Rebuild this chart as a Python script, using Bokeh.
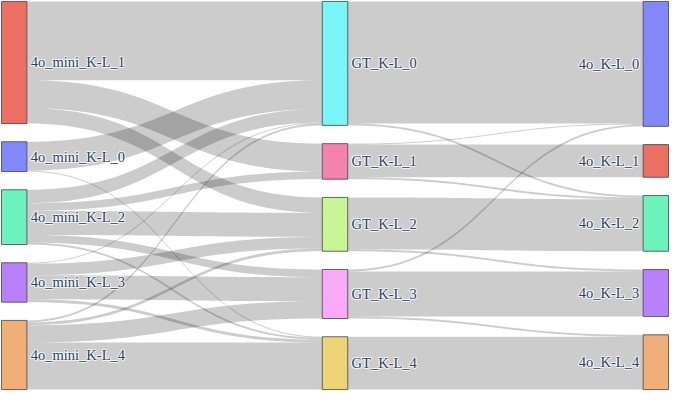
import numpy as np
from bokeh.plotting import figure
from bokeh.models import Range1d, ColumnDataSource
from bokeh.core.properties import value
from bokeh.embed import file_html
from bokeh.resources import INLINE

# ---------------- data ----------------
left_labels = ["4o_mini_K-L_1", "4o_mini_K-L_0", "4o_mini_K-L_2", "4o_mini_K-L_3", "4o_mini_K-L_4"]
mid_labels = ["GT_K-L_0", "GT_K-L_1", "GT_K-L_2", "GT_K-L_3", "GT_K-L_4"]
right_labels = ["4o_K-L_0", "4o_K-L_1", "4o_K-L_2", "4o_K-L_3", "4o_K-L_4"]

left_colors = ["#EC7062", "#8088FA", "#6CF2BD", "#B880FA", "#F0AE78"]
mid_colors = ["#7AF5F8", "#F383AE", "#C8F596", "#F8AAF8", "#EDD577"]
right_colors = ["#8088FA", "#EC7062", "#6CF2BD", "#B880FA", "#F0AE78"]

# flows: rows = source node, cols = target node
flows_left_mid = [
    [82, 29, 16, 0, 0],
    [30, 0, 0, 0, 1],
    [14, 8, 25, 8, 2],
    [1, 0, 12, 25, 3],
    [2, 0, 3, 18, 49],
]
flows_mid_right = [
    [127, 0, 2, 0, 0],
    [1, 34, 2, 0, 0],
    [0, 0, 54, 2, 0],
    [2, 0, 0, 47, 2],
    [0, 0, 0, 0, 55],
]

# ---------------- layout (reference coordinate space) ----------------
W_REF, H_REF = 685, 407
TOP, BOTTOM = 1.0, 405.0
X_LEFT, X_RIGHT = 1.0, 658.0
NODE_W = 26.0
PAD = 19.0

flm = np.array(flows_left_mid, dtype=float)
fmr = np.array(flows_mid_right, dtype=float)
left_vals = flm.sum(axis=1)
mid_vals = np.maximum(flm.sum(axis=0), fmr.sum(axis=1))
right_vals = fmr.sum(axis=0)
columns = [left_vals, mid_vals, right_vals]
col_x = [X_LEFT, (X_LEFT + X_RIGHT) / 2.0, X_RIGHT]

span = BOTTOM - TOP
ky = min((span - (len(c) - 1) * PAD) / c.sum() for c in columns)

node_y0, node_y1 = [], []
for c in columns:
    gap = (span - c.sum() * ky) / (len(c) - 1)
    y = TOP
    y0s, y1s = [], []
    for v in c:
        y0s.append(y)
        y1s.append(y + v * ky)
        y = y + v * ky + gap
    node_y0.append(y0s)
    node_y1.append(y1s)


def bezier(xa, ya, xb, yb, n=48):
    t = np.linspace(0, 1, n)
    xm = (xa + xb) / 2.0
    x = (1 - t) ** 3 * xa + 3 * (1 - t) ** 2 * t * xm + 3 * (1 - t) * t ** 2 * xm + t ** 3 * xb
    y = (1 - t) ** 3 * ya + 3 * (1 - t) ** 2 * t * ya + 3 * (1 - t) * t ** 2 * yb + t ** 3 * yb
    return x, y


link_xs, link_ys = [], []
for ci, flows in enumerate([flm, fmr]):
    ns, nt = flows.shape
    src_off = [node_y0[ci][i] for i in range(ns)]
    tgt_off = [node_y0[ci + 1][j] for j in range(nt)]
    xa = col_x[ci] + NODE_W
    xb = col_x[ci + 1]
    # target-side offsets are assigned in source order
    tgt_pos = {}
    for j in range(nt):
        for i in range(ns):
            v = flows[i, j]
            if v > 0:
                tgt_pos[(i, j)] = tgt_off[j]
                tgt_off[j] += v * ky
    for i in range(ns):
        for j in range(nt):
            v = flows[i, j]
            if v <= 0:
                continue
            h = v * ky
            ys0 = src_off[i]
            src_off[i] += h
            yt0 = tgt_pos[(i, j)]
            tx, ty = bezier(xa, ys0, xb, yt0)
            bx, by = bezier(xa, ys0 + h, xb, yt0 + h)
            link_xs.append(list(tx) + list(bx[::-1]))
            link_ys.append(list(ty) + list(by[::-1]))

# ---------------- figure ----------------
p = figure(width=669, height=391, output_backend="svg", toolbar_location=None,
           x_range=Range1d(0, W_REF), y_range=Range1d(H_REF, 0),
           x_axis_type=None, y_axis_type=None, min_border=0)
p.outline_line_color = None
p.grid.visible = False
p.background_fill_color = "white"

p.patches(link_xs, link_ys, fill_color="black", fill_alpha=0.2, line_color=None)

all_labels = [left_labels, mid_labels, right_labels]
all_colors = [left_colors, mid_colors, right_colors]
for ci in range(3):
    n = len(all_labels[ci])
    src = ColumnDataSource(dict(
        left=[col_x[ci]] * n, right=[col_x[ci] + NODE_W] * n,
        top=node_y0[ci], bottom=node_y1[ci], color=all_colors[ci]))
    p.quad(left="left", right="right", top="top", bottom="bottom", source=src,
           fill_color="color", fill_alpha=1.0, line_color="#444444", line_width=1, line_alpha=0.8)

    ymid = [(a + b) / 2.0 for a, b in zip(node_y0[ci], node_y1[ci])]
    if ci < 2:
        tx = [col_x[ci] + NODE_W + 4] * n
        align = "left"
    else:
        tx = [col_x[ci] - 4] * n
        align = "right"
    tsrc = ColumnDataSource(dict(x=tx, y=ymid, text=all_labels[ci]))
    for dx, dy in [(-1, 0), (1, 0), (0, -1), (0, 1), (-1, -1), (1, 1), (-1, 1), (1, -1)]:
        p.text(x="x", y="y", text="text", source=tsrc, text_align=align, text_baseline="middle",
               text_font=value("Liberation Serif"), text_font_size="14.5px",
               text_color="white", text_alpha=0.55, x_offset=dx, y_offset=dy)
    p.text(x="x", y="y", text="text", source=tsrc, text_align=align, text_baseline="middle",
           text_font=value("Liberation Serif"), text_font_size="14.5px", text_color="#2a3f5f")

open("out.html", "w").write(file_html(p, INLINE))
